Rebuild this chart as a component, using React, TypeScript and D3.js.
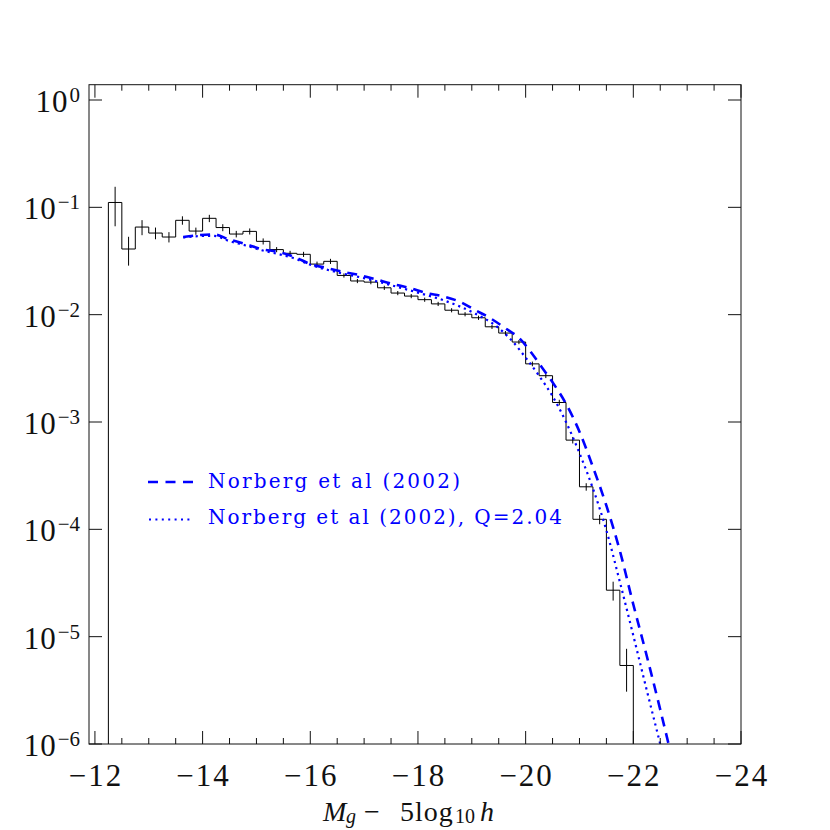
import React from 'react';
import * as d3 from 'd3';

// ---- Data ----
const binEdgeStart = -12.25;
const binWidth = 0.25;
const binPhi = [
  0.111, 0.0409, 0.0655, 0.0576, 0.0529, 0.0757, 0.0601, 0.079, 0.0648, 0.0564,
  0.0597, 0.0482, 0.0404, 0.0373, 0.0365, 0.0296, 0.0314, 0.0232, 0.0206, 0.0201,
  0.0178, 0.0159, 0.0149, 0.0138, 0.0126, 0.011, 0.0101, 0.00936, 0.00771, 0.00674,
  0.00556, 0.00348, 0.0027, 0.00152, 0.000678, 0.000249, 0.000124, 2.71e-5, 5.39e-6,
];
const binRelErr = [
  0.4, 0.3, 0.16, 0.125, 0.11, 0.09, 0.077, 0.078, 0.075, 0.07,
  0.065, 0.065, 0.055, 0.055, 0.055, 0.055, 0.055, 0.045, 0.045, 0.045,
  0.045, 0.045, 0.045, 0.045, 0.045, 0.045, 0.045, 0.045, 0.045, 0.045,
  0.045, 0.05, 0.05, 0.06, 0.07, 0.08, 0.1, 0.2, 0.43,
];

const norbergM = [
  -13.64, -13.95, -14.2, -14.5, -14.8, -15.1, -15.4, -15.7, -16.0, -16.3, -16.6, -16.9,
  -17.2, -17.5, -17.85, -18.15, -18.45, -18.8, -19.06, -19.34, -19.62, -19.88, -20.1,
  -20.3, -20.5, -20.75, -21.0, -21.25, -21.5, -21.75, -22.0, -22.25, -22.5, -22.75,
];
const norbergLogPhi = [
  -1.277, -1.258, -1.252, -1.3, -1.342, -1.39, -1.415, -1.46, -1.528, -1.565, -1.6, -1.63,
  -1.668, -1.71, -1.752, -1.798, -1.827, -1.885, -1.957, -2.032, -2.125, -2.218, -2.35,
  -2.49, -2.63, -2.83, -3.09, -3.42, -3.78, -4.2, -4.7, -5.18, -5.68, -6.2,
];

const norbergQM = [
  -13.64, -13.95, -14.2, -14.5, -14.8, -15.1, -15.4, -15.7, -16.0, -16.5, -17.0, -17.5,
  -18.0, -18.5, -19.0, -19.5, -19.75, -20.0, -20.25, -20.5, -20.75, -21.0, -21.25,
  -21.5, -21.75, -22.0, -22.25, -22.5, -22.65,
];
const norbergQLogPhi = [
  -1.28, -1.268, -1.265, -1.315, -1.355, -1.4, -1.435, -1.475, -1.535, -1.605, -1.66, -1.725,
  -1.795, -1.87, -1.975, -2.125, -2.245, -2.4, -2.57, -2.76, -3.0, -3.29, -3.62,
  -4.01, -4.49, -4.99, -5.5, -6.0, -6.3,
];

const xMajorTicks = [-12, -14, -16, -18, -20, -22, -24];
const xMinorStep = 0.5;
const yExponents = [0, -1, -2, -3, -4, -5, -6];
const legendLabels = ['Norberg et al (2002)', 'Norberg et al (2002), Q=2.04'];

// ---- Layout ----
const W = 830;
const H = 830;
const L = 89;
const R = 741;
const T = 84.7;
const B = 744;
const BLUE = '#0000ff';
const FONT = '"Liberation Serif", "Times New Roman", serif';
const LEGEND_FONT = '"DejaVu Serif", "Liberation Serif", serif';

const x = d3.scaleLinear().domain([-11.89, -24]).range([L, R]);
const y = d3.scaleLog().domain([1e-6, Math.pow(10, 0.1426)]).range([B, T]);

const minusify = (s: string) => s.replace(/-/g, '\u2212');

export default function App() {
  // histogram outline
  const pts: [number, number][] = [];
  const e0 = binEdgeStart;
  pts.push([x(e0), y(1e-6)]);
  binPhi.forEach((p, i) => {
    const a = e0 - i * binWidth;
    const b = e0 - (i + 1) * binWidth;
    pts.push([x(a), y(p)]);
    pts.push([x(b), y(p)]);
  });
  pts.push([x(e0 - binPhi.length * binWidth), y(1e-6)]);
  const histPath = d3.line()(pts) || '';

  const curve = d3
    .line<[number, number]>()
    .x((d) => x(d[0]))
    .y((d) => y(Math.pow(10, d[1])))
    .curve(d3.curveMonotoneX);
  const dashedPath = curve(norbergM.map((m, i) => [m, norbergLogPhi[i]])) || '';
  const dottedPath = curve(norbergQM.map((m, i) => [m, norbergQLogPhi[i]])) || '';

  const minorTicks = d3.range(-12, -24.001, -xMinorStep).filter(
    (v) => Math.abs(v / 2 - Math.round(v / 2)) > 1e-6
  );

  return (
    <svg
      width={W}
      height={H}
      style={{ position: 'absolute', left: 0, top: 0, background: '#fff' }}
      fontFamily={FONT}
    >
      <defs>
        <clipPath id="plotclip">
          <rect x={L} y={T} width={R - L} height={B - T} />
        </clipPath>
      </defs>
      <rect x={0} y={0} width={W} height={H} fill="#fff" />

      {/* histogram */}
      <path d={histPath} fill="none" stroke="#000" strokeWidth={1} clipPath="url(#plotclip)" />
      {binPhi.map((p, i) => {
        const c = binEdgeStart - (i + 0.5) * binWidth;
        const s = p * binRelErr[i];
        return (
          <line
            key={'e' + i}
            x1={x(c)}
            x2={x(c)}
            y1={y(p + s)}
            y2={y(Math.max(p - s, 1e-6))}
            stroke="#000"
            strokeWidth={1}
          />
        );
      })}

      {/* model curves */}
      <g clipPath="url(#plotclip)">
        <path d={dashedPath} fill="none" stroke={BLUE} strokeWidth={2.6} strokeDasharray="10 7" />
        <path d={dottedPath} fill="none" stroke={BLUE} strokeWidth={2.2} strokeDasharray="2.2 4" />
      </g>

      {/* frame */}
      <rect x={L} y={T} width={R - L} height={B - T} fill="none" stroke="#111" strokeWidth={1} />

      {/* x ticks */}
      {xMajorTicks.map((v) => (
        <g key={'xm' + v}>
          <line x1={x(v)} x2={x(v)} y1={B} y2={B - 13} stroke="#111" />
          <line x1={x(v)} x2={x(v)} y1={T} y2={T + 13} stroke="#111" />
          <text
            x={x(v) + 1}
            y={786}
            fontSize={31}
            textAnchor="middle"
            letterSpacing={2}
            fill="#111"
          >
            {minusify(String(v))}
          </text>
        </g>
      ))}
      {minorTicks.map((v) => (
        <g key={'xn' + v}>
          <line x1={x(v)} x2={x(v)} y1={B} y2={B - 6} stroke="#111" />
          <line x1={x(v)} x2={x(v)} y1={T} y2={T + 6} stroke="#111" />
        </g>
      ))}

      {/* y ticks */}
      {yExponents.map((e) => {
        const yy = y(Math.pow(10, e));
        return (
          <g key={'y' + e}>
            <line x1={L} x2={L + 13} y1={yy} y2={yy} stroke="#111" />
            <line x1={R} x2={R - 13} y1={yy} y2={yy} stroke="#111" />
            <text x={80} y={yy + 12} textAnchor="end" fill="#111">
              <tspan fontSize={31} letterSpacing={1}>10</tspan>
              <tspan fontSize={21} dx={1} dy={-10}>
                {minusify(String(e))}
              </tspan>
            </text>
          </g>
        );
      })}

      {/* x axis title */}
      <text y={821} fontSize={28} fill="#111">
        <tspan x={323} fontStyle="italic">M</tspan>
        <tspan x={346} dy={2} fontSize={20} fontStyle="italic">g</tspan>
        <tspan x={364} dy={-2}>{'\u2212'}</tspan>
        <tspan x={400} letterSpacing={1}>5log</tspan>
        <tspan x={455} dy={2} fontSize={20}>10</tspan>
        <tspan x={480} dy={-2} fontStyle="italic">h</tspan>
      </text>

      {/* legend */}
      <line x1={148} x2={193} y1={482} y2={482} stroke={BLUE} strokeWidth={2.6} strokeDasharray="10 7.5" />
      <line x1={149} x2={193} y1={519.5} y2={519.5} stroke={BLUE} strokeWidth={2} strokeDasharray="2 4.4" />
      <text
        x={208}
        y={487.5}
        fontSize={20}
        fontFamily={LEGEND_FONT}
        fill={BLUE}
        textLength={252}
        lengthAdjust="spacing"
      >
        {legendLabels[0]}
      </text>
      <text
        x={208}
        y={523.5}
        fontSize={20}
        fontFamily={LEGEND_FONT}
        fill={BLUE}
        textLength={354}
        lengthAdjust="spacing"
      >
        {legendLabels[1]}
      </text>
    </svg>
  );
}
